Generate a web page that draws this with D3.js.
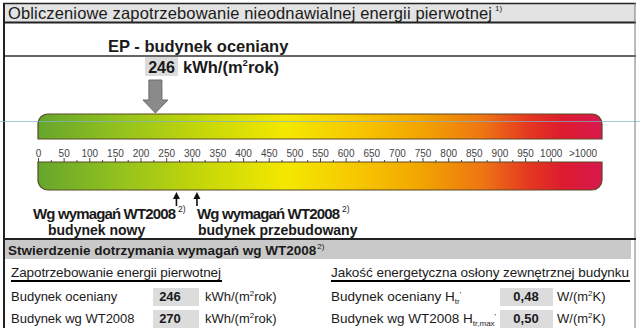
<!DOCTYPE html>
<html>
<head>
<meta charset="utf-8">
<script src="https://cdn.jsdelivr.net/npm/d3@7"></script>
<style>
  body { margin: 0; background: #fff; }
  svg { display: block; font-family: "Liberation Sans", Arial, sans-serif; }
</style>
</head>
<body>
<div id="chart"></div>
<script>
// scale labels along the bar
var tickLabels = ['0','50','100','150','200','250','300','350','400','450','500',
                  '550','600','650','700','750','800','850','900','950','1000','>1000'];
var tickValues = [0,50,100,150,200,250,300,350,400,450,500,550,600,650,700,750,800,850,900,950,1000,1062];
var majorTicks = [0,50,100,150,200,250,300,350,400,450,500,550,600,650,700,750,800,850,900,950,1000];
var minorTicks = [25,75,125,175,225,275,325,375,425,475,525,575,625,675,725,775,825,875,925,975];

// building values
var epValue = 246;
var epPointer = 229;          // where the big arrow sits on the scale in the picture
var wtValues = [270, 310];
var wtLines = [['Wg wymagań WT2008', 'budynek nowy'], ['Wg wymagań WT2008', 'budynek przebudowany']];

// lower table
var energyLabels = ['Budynek oceniany', 'Budynek wg WT2008'];
var energyValues = ['246', '270'];
var envelopeLabels = ['Budynek oceniany', 'Budynek wg WT2008'];
var envelopeSubs = ['tr', 'tr,max'];
var envelopeValues = ['0,48', '0,50'];

var dark = '#222';
var text_color = '#1a1a1a';
var box_fill = '#dcdcdc';

var gradientStops = [
    [0, '#66a62c'], [0.16, '#98c41c'], [0.30, '#c8d808'], [0.44, '#f4e800'],
    [0.57, '#f6c600'], [0.68, '#f2a400'], [0.79, '#ee7414'], [0.87, '#e43820'],
    [0.93, '#dc1c2e'], [1, '#d81850']
];

var svg = d3.select('#chart').append('svg')
    .attr('width', 640).attr('height', 328);

var x = d3.scaleLinear().domain([0, 1100]).range([38, 602]);
var x0 = x.range()[0], x1 = x.range()[1];

// ---------- frame ----------
svg.append('rect').attr('x', 4).attr('y', 4).attr('width', 631).attr('height', 18).attr('fill', '#e3e3e3');
svg.append('line').attr('x1', 3).attr('x2', 636).attr('y1', 3.5).attr('y2', 3.5).attr('stroke', dark).attr('stroke-width', 1.5);
svg.append('line').attr('x1', 3).attr('x2', 636).attr('y1', 22.5).attr('y2', 22.5).attr('stroke', dark).attr('stroke-width', 2);
svg.append('line').attr('x1', 3).attr('x2', 636).attr('y1', 56).attr('y2', 56).attr('stroke', '#333').attr('stroke-width', 1.3);
svg.append('line').attr('x1', 4).attr('x2', 4).attr('y1', 3).attr('y2', 328).attr('stroke', dark).attr('stroke-width', 2);
svg.append('line').attr('x1', 635).attr('x2', 635).attr('y1', 3).attr('y2', 328).attr('stroke', '#777').attr('stroke-width', 1);

var title = svg.append('text').attr('x', 8).attr('y', 19).attr('font-size', 16.5).attr('fill', text_color)
    .attr('textLength', 484).text('Obliczeniowe zapotrzebowanie nieodnawialnej energii pierwotnej');
svg.append('text').attr('x', 495).attr('y', 11).attr('font-size', 8).attr('fill', text_color).text('1)');

// ---------- EP pointer ----------
svg.append('text').attr('x', 108).attr('y', 52).attr('font-size', 16.5).attr('font-weight', 'bold')
    .attr('fill', text_color).text('EP - budynek oceniany');
svg.append('rect').attr('x', 145).attr('y', 57).attr('width', 33).attr('height', 19).attr('fill', box_fill);
svg.append('text').attr('x', 161.5).attr('y', 72.5).attr('text-anchor', 'middle').attr('font-size', 16)
    .attr('font-weight', 'bold').attr('fill', text_color).text(epValue);
var epUnit = svg.append('text').attr('x', 183).attr('y', 72.5).attr('font-size', 16.5).attr('font-weight', 'bold')
    .attr('fill', text_color).text('kWh/(m');
epUnit.append('tspan').attr('dy', -7).attr('font-size', 9.5).text('2');
epUnit.append('tspan').attr('dy', 7).text('rok)');

var ax = x(epPointer);
svg.append('path')
    .attr('d', 'M' + (ax - 6.5) + ',80 H' + (ax + 6.5) + ' V100 H' + (ax + 12.5) + ' L' + ax + ',113 L' + (ax - 12.5) + ',100 H' + (ax - 6.5) + ' Z')
    .attr('fill', '#8a8a8a').attr('stroke', '#6a6a6a').attr('stroke-width', 1);

// ---------- colour bars ----------
var grad = svg.append('defs').append('linearGradient').attr('id', 'epgrad')
    .attr('gradientUnits', 'userSpaceOnUse').attr('x1', x0).attr('x2', x1).attr('y1', 0).attr('y2', 0);
grad.selectAll('stop').data(gradientStops).enter().append('stop')
    .attr('offset', function(d) { return d[0]; })
    .attr('stop-color', function(d) { return d[1]; });

var r = 10;
svg.append('path')
    .attr('d', 'M' + x0 + ',139 V' + (114 + r) + ' A' + r + ',' + r + ' 0 0 1 ' + (x0 + r) + ',114 H' + (x1 - r) +
               ' A' + r + ',' + r + ' 0 0 1 ' + x1 + ',' + (114 + r) + ' V139 Z')
    .attr('fill', 'url(#epgrad)').attr('stroke', '#5a4a22').attr('stroke-width', 1.2);
svg.append('path')
    .attr('d', 'M' + x0 + ',162 H' + x1 + ' V' + (190 - r) + ' A' + r + ',' + r + ' 0 0 1 ' + (x1 - r) + ',190 H' + (x0 + r) +
               ' A' + r + ',' + r + ' 0 0 1 ' + x0 + ',' + (190 - r) + ' Z')
    .attr('fill', 'url(#epgrad)').attr('stroke', '#5a4a22').attr('stroke-width', 1.2);

// scan line across the picture
svg.append('line').attr('x1', 0).attr('x2', 640).attr('y1', 121.5).attr('y2', 121.5)
    .attr('stroke', '#7fb2cc').attr('stroke-width', 1).attr('opacity', 0.7);

// ---------- scale ----------
var axisMajor = svg.append('g').attr('transform', 'translate(0,162)')
    .call(d3.axisTop(x).tickValues(majorTicks).tickSize(4).tickSizeOuter(0).tickFormat(''));
var axisMinor = svg.append('g').attr('transform', 'translate(0,162)')
    .call(d3.axisTop(x).tickValues(minorTicks).tickSize(2).tickSizeOuter(0).tickFormat(''));
[axisMajor, axisMinor].forEach(function(g) {
    g.select('.domain').remove();
    g.selectAll('.tick line').attr('stroke', '#444').attr('stroke-width', 1);
});
var axisLabels = svg.append('g').attr('transform', 'translate(0,162)')
    .call(d3.axisTop(x).tickValues(tickValues).tickSize(0).tickPadding(5)
        .tickFormat(function(d, i) { return tickLabels[i]; }));
axisLabels.select('.domain').remove();
axisLabels.selectAll('text').attr('font-size', 10).attr('fill', '#444')
    .attr('font-family', '"Liberation Sans", Arial, sans-serif');

// ---------- WT2008 markers ----------
var markers = svg.selectAll('g.marker').data(wtValues).enter().append('g').attr('class', 'marker');
markers.append('line')
    .attr('x1', function(d) { return x(d); }).attr('x2', function(d) { return x(d); })
    .attr('y1', 196).attr('y2', 206).attr('stroke', '#111').attr('stroke-width', 1.6);
markers.append('path')
    .attr('d', function(d) { var c = x(d); return 'M' + (c - 3.5) + ',199 L' + c + ',192 L' + (c + 3.5) + ',199 Z'; })
    .attr('fill', '#111');

var line1x = [33, 197], line2x = [48, 198];
wtLines.forEach(function(lines, i) {
    svg.append('text').attr('x', line1x[i]).attr('y', 219).attr('font-size', 15).attr('font-weight', 'bold')
        .attr('fill', text_color).attr('textLength', 143).text(lines[0]);
    svg.append('text').attr('x', line1x[i] + 145).attr('y', 212).attr('font-size', 8.5).attr('fill', text_color).text('2)');
    svg.append('text').attr('x', line2x[i]).attr('y', 235).attr('font-size', 14).attr('font-weight', 'bold')
        .attr('fill', text_color).text(lines[1]);
});

// ---------- compliance table ----------
svg.append('line').attr('x1', 3).attr('x2', 636).attr('y1', 239).attr('y2', 239).attr('stroke', dark).attr('stroke-width', 2);
svg.append('rect').attr('x', 5).attr('y', 240).attr('width', 626).attr('height', 19).attr('fill', '#c9c9c9');
var st = svg.append('text').attr('x', 8).attr('y', 255).attr('font-size', 13.5).attr('font-weight', 'bold')
    .attr('fill', text_color).text('Stwierdzenie dotrzymania wymagań wg WT2008');
st.append('tspan').attr('dy', -6).attr('dx', 1).attr('font-size', 8).attr('font-weight', 'normal').text('2)');

svg.append('text').attr('x', 11).attr('y', 277).attr('font-size', 13.5).attr('fill', text_color)
    .attr('textLength', 210).text('Zapotrzebowanie energii pierwotnej');
svg.append('line').attr('x1', 11).attr('x2', 222).attr('y1', 281).attr('y2', 281).attr('stroke', '#000').attr('stroke-width', 2);
svg.append('text').attr('x', 331).attr('y', 277).attr('font-size', 13.5).attr('fill', text_color)
    .attr('textLength', 298).text('Jakość energetyczna osłony zewnętrznej budynku');
svg.append('line').attr('x1', 331).attr('x2', 630).attr('y1', 281).attr('y2', 281).attr('stroke', '#000').attr('stroke-width', 2);

var rowY = [301, 323];
energyLabels.forEach(function(lab, i) {
    svg.append('text').attr('x', 11).attr('y', rowY[i]).attr('font-size', 13).attr('fill', text_color).text(lab);
    svg.append('rect').attr('x', 153).attr('y', rowY[i] - 13).attr('width', 46).attr('height', 18).attr('fill', box_fill);
    svg.append('text').attr('x', 170).attr('y', rowY[i]).attr('text-anchor', 'middle').attr('font-size', 13)
        .attr('font-weight', 'bold').attr('fill', text_color).text(energyValues[i]);
    var u = svg.append('text').attr('x', 205).attr('y', rowY[i]).attr('font-size', 13).attr('fill', text_color).text('kWh/(m');
    u.append('tspan').attr('dy', -5).attr('font-size', 8).text('2');
    u.append('tspan').attr('dy', 5).text('rok)');
});

envelopeLabels.forEach(function(lab, i) {
    var t = svg.append('text').attr('x', 331).attr('y', rowY[i]).attr('font-size', 13.5).attr('fill', text_color)
        .text(lab + (i === 0 ? ' H' : '  H'));
    t.append('tspan').attr('dy', 3).attr('font-size', 8).text(envelopeSubs[i]);
    t.append('tspan').attr('dy', -7).attr('font-size', 8).text('\'');
    svg.append('rect').attr('x', 500).attr('y', rowY[i] - 13).attr('width', 53).attr('height', 18).attr('fill', box_fill);
    svg.append('text').attr('x', 526).attr('y', rowY[i]).attr('text-anchor', 'middle').attr('font-size', 13)
        .attr('font-weight', 'bold').attr('fill', text_color).text(envelopeValues[i]);
    var u = svg.append('text').attr('x', 557).attr('y', rowY[i]).attr('font-size', 13).attr('fill', text_color).text('W/(m');
    u.append('tspan').attr('dy', -5).attr('font-size', 8).text('2');
    u.append('tspan').attr('dy', 5).text('K)');
});
</script>
</body>
</html>
